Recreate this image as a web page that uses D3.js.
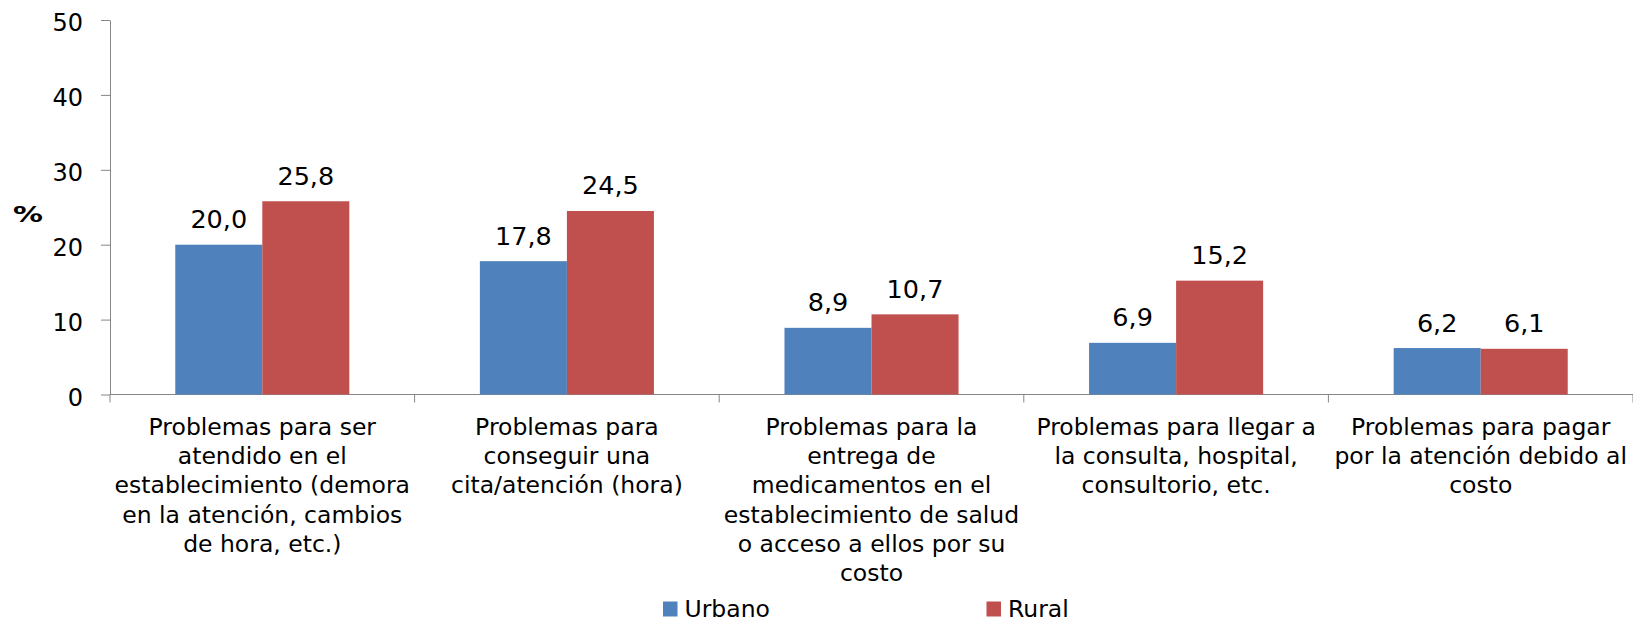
<!DOCTYPE html>
<html>
<head>
<meta charset="utf-8">
<script src="https://cdn.jsdelivr.net/npm/d3@7"></script>
<style>
    body { margin: 0; background: #fff; }
    text { font-family: "DejaVu Sans", Verdana, sans-serif; fill: #000; }
    .axis path, .axis line { stroke: #868686; }
</style>
</head>
<body>
<div id="chartDiv"></div>
<script>

// Categories (wrapped as in the original)
let categories = [
    ["Problemas para ser", "atendido en el", "establecimiento (demora", "en la atención, cambios", "de hora, etc.)"],
    ["Problemas para", "conseguir una", "cita/atención (hora)"],
    ["Problemas para la", "entrega de", "medicamentos en el", "establecimiento de salud", "o acceso a ellos por su", "costo"],
    ["Problemas para llegar a", "la consulta, hospital,", "consultorio, etc."],
    ["Problemas para pagar", "por la atención debido al", "costo"]
];

let series = ["Urbano", "Rural"];
let urbano = [20.0, 17.8, 8.9, 6.9, 6.2];
let rural = [25.8, 24.5, 10.7, 15.2, 6.1];
let yTicks = [0, 10, 20, 30, 40, 50];

class groupedBar {
    constructor(parentElement){
        this.parentElement = parentElement;
        this.initVis()
    }

    initVis(){
        let vis = this;

        vis.margin = {top: 20, right: 0, bottom: 228.5, left: 110};
        vis.width = 1633 - vis.margin.left - vis.margin.right;
        vis.height = 623 - vis.margin.top - vis.margin.bottom;

        vis.svg = d3.select("#" + vis.parentElement).append("svg")
            .attr("width", 1633)
            .attr("height", 623)
            .append("g")
            .attr("transform", "translate(" + vis.margin.left + "," + vis.margin.top + ")");

        // Scales
        vis.x0 = d3.scaleBand()
            .range([0, vis.width])
            .padding(0);

        // Excel gap width 150%
        vis.x1 = d3.scaleBand()
            .paddingInner(0)
            .paddingOuter(0.75);

        vis.y = d3.scaleLinear()
            .range([vis.height, 0]);

        vis.color = d3.scaleOrdinal()
            .domain(series)
            .range(["#4F81BD", "#C0504D"]);

        vis.wrangleData()
    }

    wrangleData(){
        let vis = this;

        vis.data = categories.map((c, i) => ({
            index: i,
            lines: c,
            values: [
                {key: "Urbano", value: urbano[i]},
                {key: "Rural", value: rural[i]}
            ]
        }));

        vis.updateVis()
    }

    updateVis(){
        let vis = this;
        let fontSize = "23.5px";

        vis.x0.domain(vis.data.map(d => d.index));
        vis.x1.domain(series).range([0, vis.x0.bandwidth()]);
        vis.y.domain([0, 50]);

        // Y axis
        let yAxis = d3.axisLeft(vis.y)
            .tickValues(yTicks)
            .tickSize(9)
            .tickPadding(18)
            .tickSizeOuter(0);

        let yG = vis.svg.append("g")
            .attr("class", "y-axis axis")
            .call(yAxis);
        yG.selectAll("text")
            .style("font-size", "24px")
            .attr("dy", "0.45em");

        // X axis: ticks between categories
        let boundaries = d3.range(categories.length + 1).map(i => i * vis.x0.step());
        let xG = vis.svg.append("g")
            .attr("class", "x-axis axis")
            .attr("transform", "translate(0," + vis.height + ")");
        xG.append("line")
            .attr("x1", 0)
            .attr("x2", vis.width)
            .attr("stroke", "#868686");
        xG.selectAll(".xtick")
            .data(boundaries)
            .enter()
            .append("line")
            .attr("class", "xtick")
            .attr("x1", d => d)
            .attr("x2", d => d)
            .attr("y1", 0)
            .attr("y2", 8)
            .attr("stroke", "#868686");

        // Category labels
        let catLabel = vis.svg.selectAll(".cat-label")
            .data(vis.data)
            .enter()
            .append("text")
            .attr("class", "cat-label")
            .attr("text-anchor", "middle")
            .style("font-size", fontSize)
            .attr("transform", d => "translate(" + (vis.x0(d.index) + vis.x0.bandwidth() / 2) + "," + (vis.height + 40.5) + ")");

        catLabel.selectAll("tspan")
            .data(d => d.lines)
            .enter()
            .append("tspan")
            .attr("x", 0)
            .attr("y", (d, i) => i * 29.2)
            .text(d => d);

        // Bars
        let groups = vis.svg.selectAll(".group")
            .data(vis.data)
            .enter()
            .append("g")
            .attr("class", "group")
            .attr("transform", d => "translate(" + vis.x0(d.index) + ",0)");

        groups.selectAll(".bar")
            .data(d => d.values)
            .enter()
            .append("rect")
            .attr("class", "bar")
            .attr("x", d => vis.x1(d.key))
            .attr("y", d => vis.y(d.value))
            .attr("width", vis.x1.bandwidth())
            .attr("height", d => vis.height - vis.y(d.value))
            .attr("fill", d => vis.color(d.key));

        // Value labels
        groups.selectAll(".labels")
            .data(d => d.values)
            .enter()
            .append("text")
            .attr("class", "labels")
            .attr("x", d => vis.x1(d.key) + vis.x1.bandwidth() / 2)
            .attr("y", d => vis.y(d.value) - 16.5)
            .attr("text-anchor", "middle")
            .style("font-size", "25.5px")
            .text(d => d3.format(".1f")(d.value).replace(".", ","));

        // Y axis title
        vis.svg.append("text")
            .attr("x", 13 - vis.margin.left)
            .attr("y", 222 - vis.margin.top)
            .style("font-size", "22px")
            .style("font-weight", "bold")
            .attr("textLength", 30)
            .attr("lengthAdjust", "spacingAndGlyphs")
            .text("%");

        // Legend
        let legendX = [663, 986.5];
        let legend = vis.svg.selectAll(".legend")
            .data(series)
            .enter()
            .append("g")
            .attr("class", "legend")
            .attr("transform", (d, i) => "translate(" + (legendX[i] - vis.margin.left) + "," + (601.5 - vis.margin.top) + ")");

        legend.append("rect")
            .attr("width", 14.5)
            .attr("height", 15)
            .attr("fill", d => vis.color(d));

        legend.append("text")
            .attr("x", 21.5)
            .attr("y", 15.3)
            .style("font-size", fontSize)
            .text(d => d);
    }
}

new groupedBar("chartDiv");
</script>
</body>
</html>
